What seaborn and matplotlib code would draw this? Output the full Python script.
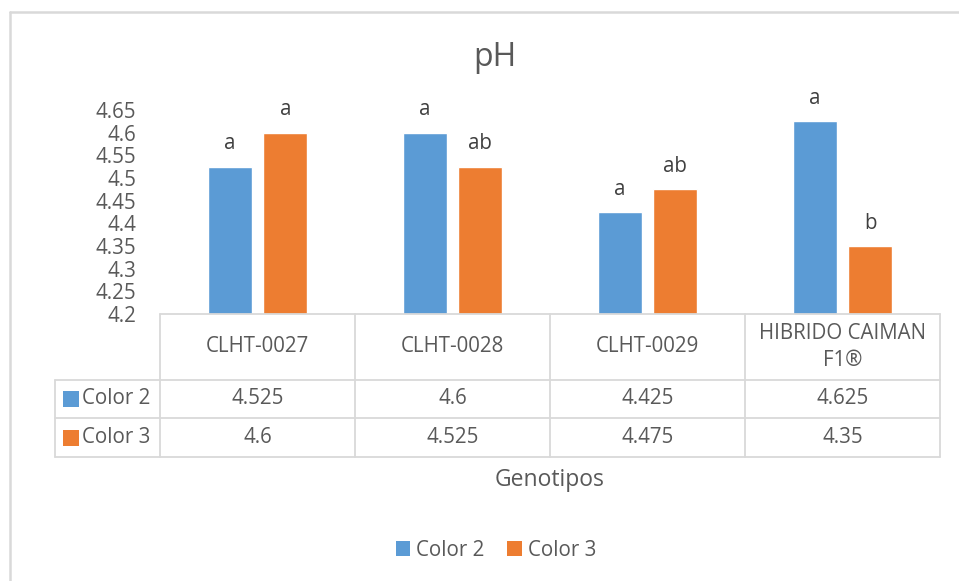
import matplotlib
matplotlib.use("Agg")
import matplotlib.pyplot as plt
from matplotlib.lines import Line2D
from matplotlib.patches import Patch
import numpy as np
import pandas as pd
import seaborn as sns

# ---------------- data ----------------
genotipos = ["CLHT-0027", "CLHT-0028", "CLHT-0029", "HIBRIDO CAIMAN\nF1®"]
series = ["Color 2", "Color 3"]
color2 = [4.525, 4.6, 4.425, 4.625]
color3 = [4.6, 4.525, 4.475, 4.35]
letras2 = ["a", "a", "a", "a"]
letras3 = ["a", "ab", "ab", "b"]
yticks = [4.2, 4.25, 4.3, 4.35, 4.4, 4.45, 4.5, 4.55, 4.6, 4.65]
palette = ["#5B9BD5", "#ED7D31"]

# ---------------- style ----------------
sns.set_theme(style="white")
plt.rcParams["font.family"] = ["Open Sans", "DejaVu Sans"]
TXT = "#595959"
GRID = "#D9D9D9"
FS = 14.8

W, H = 959, 581
fig = plt.figure(figsize=(W / 100, H / 100), dpi=100)
fig.patch.set_facecolor("white")


def fx(px):
    return px / W


def fy(py):
    return 1 - py / H


# layout (pixels)
PL, PR, PT, PB = 160, 940, 110, 314
TL = 55
ROWS = [314, 380, 418, 457]

# ---------------- bars ----------------
ax = fig.add_axes([fx(PL), fy(PB), fx(PR) - fx(PL), fy(PT) - fy(PB)])
df = pd.DataFrame({
    "Genotipo": genotipos * 2,
    "Serie": [series[0]] * len(genotipos) + [series[1]] * len(genotipos),
    "pH": color2 + color3,
})
sns.barplot(data=df, x="Genotipo", y="pH", hue="Serie", palette=palette,
            saturation=1, width=0.569, gap=0.207, errorbar=None,
            legend=False, ax=ax)
ax.set_ylim(yticks[0], yticks[-1])
ax.set_xlim(-0.5, len(genotipos) - 0.5)
ax.set_yticks(yticks)
ax.set_yticklabels([f"{v:g}" for v in yticks])
ax.tick_params(axis="y", length=0, pad=17, labelsize=FS, labelcolor=TXT)
ax.set_xticks([])
ax.set_xlabel("")
ax.set_ylabel("")
for s in ax.spines.values():
    s.set_visible(False)
ax.set_facecolor("none")

for cont, labs in zip(ax.containers, [letras2, letras3]):
    ax.bar_label(cont, labels=labs, padding=9, fontsize=FS, color="#404040")

# ---------------- data table ----------------
tax = fig.add_axes([fx(TL), fy(ROWS[-1]), fx(PR) - fx(TL), fy(ROWS[0]) - fy(ROWS[-1])])
colw = (PR - PL) / len(genotipos)
xmin = -0.5 - (PL - TL) / colw
xmax = len(genotipos) - 0.5
tax.set_xlim(xmin, xmax)
tax.set_ylim(ROWS[-1], ROWS[0])
tax.axis("off")
lw = 1.3
tax.plot([-0.5, xmax], [ROWS[0], ROWS[0]], color=GRID, lw=lw, clip_on=False)
for r in ROWS[1:]:
    tax.plot([xmin, xmax], [r, r], color=GRID, lw=lw, clip_on=False)
tax.plot([xmin, xmin], [ROWS[1], ROWS[-1]], color=GRID, lw=lw, clip_on=False)
for i in range(len(genotipos) + 1):
    xv = i - 0.5
    tax.plot([xv, xv], [ROWS[0], ROWS[-1]], color=GRID, lw=lw, clip_on=False)

for i, g in enumerate(genotipos):
    tax.text(i, (ROWS[0] + ROWS[1]) / 2, g, ha="center", va="center",
             fontsize=FS, color=TXT, linespacing=1.35)
    tax.text(i, (ROWS[1] + ROWS[2]) / 2, f"{color2[i]:g}", ha="center",
             va="center", fontsize=FS, color=TXT)
    tax.text(i, (ROWS[2] + ROWS[3]) / 2, f"{color3[i]:g}", ha="center",
             va="center", fontsize=FS, color=TXT)


def dx(px):
    return xmin + (px - TL) / colw


for k, (name, col) in enumerate(zip(series, palette)):
    yc = (ROWS[k + 1] + ROWS[k + 2]) / 2
    tax.scatter([dx(71)], [yc], marker="s", s=120, color=col, clip_on=False,
                linewidths=0)
    tax.text(dx(82), yc, name, ha="left", va="center", fontsize=FS, color=TXT)

# ---------------- titles / legend ----------------
fig.text(fx(495), fy(57), "pH", ha="center", va="center", fontsize=23, color=TXT)
fig.text(fx(550), fy(480), "Genotipos", ha="center", va="center",
         fontsize=16.5, color=TXT)

handles = [Patch(facecolor=c, edgecolor="none", label=s) for s, c in zip(series, palette)]
leg = fig.legend(handles=handles, loc="center", bbox_to_anchor=(fx(496), fy(550)),
                 ncol=2, frameon=False, fontsize=FS, handlelength=0.7,
                 handleheight=0.7, handletextpad=0.3, columnspacing=1.1)
for t in leg.get_texts():
    t.set_color(TXT)

# chart border (top and left visible)
fig.add_artist(Line2D([fx(10), fx(10)], [fy(12), 0], color=GRID, lw=1.8))
fig.add_artist(Line2D([fx(10), 1], [fy(12), fy(12)], color=GRID, lw=1.8))

fig.savefig("out.png", dpi=100, facecolor="white")
